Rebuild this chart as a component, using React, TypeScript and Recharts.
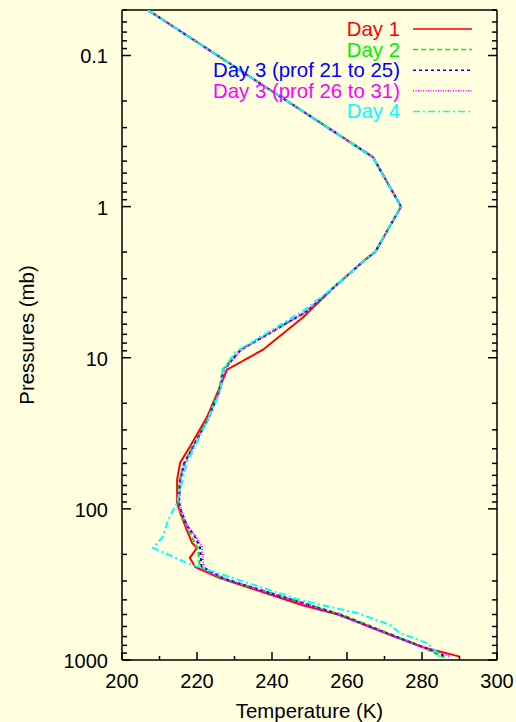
import { ScatterChart, Scatter, XAxis, YAxis } from "recharts";

const W = 516;
const H = 722;
const FONT = "'Liberation Sans', Arial, sans-serif";

// ─── ticks ───────────────────────────────────────────────────────────────────
const X_TICKS = [200, 210, 220, 230, 240, 250, 260, 270, 280, 290, 300];
const Y_TICKS = [
  0.05, 0.06, 0.07, 0.08, 0.09,
  0.1, 0.2, 0.3, 0.4, 0.5, 0.6, 0.7, 0.8, 0.9,
  1, 2, 3, 4, 5, 6, 7, 8, 9,
  10, 20, 30, 40, 50, 60, 70, 80, 90,
  100, 200, 300, 400, 500, 600, 700, 800, 900,
  1000,
];
const Y_LABELS = [0.1, 1, 10, 100, 1000];

// ─── profiles (pressure in mb, temperature in K) ─────────────────────────────
const DAY1_P = [0.05, 0.47, 1.0, 2.0, 2.25, 3.4, 5.4, 8.85, 12, 15.6, 24.6, 38.8, 49.5, 64, 91, 106, 138, 168, 181, 211, 242, 287, 433, 504, 653, 820, 950];
const DAY1_T = [206.9, 266.9, 274.4, 267.5, 264.8, 256.6, 248.3, 237.6, 228.0, 226.1, 222.7, 218.1, 215.5, 214.7, 214.7, 215.5, 217.3, 218.7, 220.0, 218.1, 219.5, 226.1, 248.0, 258.1, 269.6, 280.0, 290.1];

const DAY2_P = [0.05, 0.47, 1.0, 2.0, 2.25, 3.4, 4.96, 6.8, 8.85, 12, 16, 25, 39, 50, 65, 90, 105, 135, 160, 185, 215, 242, 290, 500, 650, 820, 930, 960];
const DAY2_T = [206.9, 266.9, 274.4, 267.5, 264.8, 256.6, 249.3, 239.5, 231.5, 226.8, 226.0, 223.0, 218.8, 216.5, 215.3, 215.0, 215.5, 217.5, 219.0, 220.3, 220.5, 220.8, 227.0, 258.5, 270.0, 280.2, 284.5, 286.0];

const DAY3A_P = [0.05, 0.47, 1.0, 2.0, 2.25, 3.4, 4.96, 6.8, 8.85, 12, 16, 25, 39, 50, 65, 90, 105, 130, 150, 180, 240, 290, 500, 650, 820, 950];
const DAY3A_T = [206.9, 266.9, 274.4, 267.5, 264.8, 256.6, 249.1, 239.7, 231.7, 227.1, 226.2, 223.1, 218.9, 216.6, 215.5, 215.2, 215.8, 217.4, 219.3, 220.8, 221.2, 227.3, 258.0, 269.6, 280.3, 286.5];

const DAY3B_P = [0.05, 0.47, 1.0, 2.0, 2.25, 3.4, 4.96, 6.8, 8.85, 12, 16, 25, 39, 50, 65, 90, 105, 130, 150, 178, 215, 253, 290, 500, 650, 820, 950];
const DAY3B_T = [206.9, 266.9, 274.4, 267.5, 264.8, 256.6, 249.0, 239.8, 231.8, 227.3, 226.3, 223.2, 219.0, 216.8, 215.6, 215.3, 216.0, 217.5, 219.5, 221.3, 221.6, 221.8, 227.5, 257.5, 269.3, 280.3, 287.5];

const DAY4_P = [0.05, 0.47, 1.0, 2.0, 2.25, 3.4, 4.8, 6.8, 9.2, 12.4, 16.3, 30, 49.5, 75, 91, 118, 153, 181, 228, 287, 401, 489, 586, 662, 772, 927, 960];
const DAY4_T = [206.9, 266.9, 274.4, 267.5, 264.8, 256.6, 248.8, 238.9, 230.1, 226.7, 226.4, 221.6, 217.3, 215.5, 214.7, 212.3, 210.9, 208.3, 217.3, 229.6, 247.5, 262.7, 271.5, 274.1, 281.3, 284.8, 284.0];

const toPoints = (p: number[], t: number[]) => p.map((v, i) => ({ p: v, t: t[i] }));

const SERIES = [
  { name: "Day 1", color: "#ff0000", dash: undefined as string | undefined, data: toPoints(DAY1_P, DAY1_T) },
  { name: "Day 2", color: "#00ee00", dash: "5 3", data: toPoints(DAY2_P, DAY2_T) },
  { name: "Day 3 (prof 21 to 25)", color: "#0000ff", dash: "3 3", data: toPoints(DAY3A_P, DAY3A_T) },
  { name: "Day 3 (prof 26 to 31)", color: "#ff00ff", dash: "1 1.5", data: toPoints(DAY3B_P, DAY3B_T) },
  { name: "Day 4", color: "#00ffff", dash: "7 3 2 3", data: toPoints(DAY4_P, DAY4_T) },
];

// ─── tick renderers (inward ticks on all four sides) ─────────────────────────
const BottomTick = ({ x, y, payload }: any) => {
  const major = payload.value % 20 === 0;
  return (
    <g>
      <line x1={x} x2={x} y1={y} y2={y - (major ? 8 : 4)} stroke="#000" strokeWidth={1.5} />
      {major && (
        <text x={x} y={y + 28} textAnchor="middle" fontSize={20} fill="#000">
          {payload.value}
        </text>
      )}
    </g>
  );
};

const TopTick = ({ x, y, payload }: any) => {
  const major = payload.value % 20 === 0;
  return <line x1={x} x2={x} y1={y} y2={y + (major ? 8 : 4)} stroke="#000" strokeWidth={1.5} />;
};

const LeftTick = ({ x, y, payload }: any) => {
  const major = Y_LABELS.includes(payload.value);
  return (
    <g>
      <line x1={x} x2={x + (major ? 9 : 5)} y1={y} y2={y} stroke="#000" strokeWidth={1.5} />
      {major && (
        <text x={x - 14} y={y + 8} textAnchor="end" fontSize={20} fill="#000">
          {payload.value}
        </text>
      )}
    </g>
  );
};

const RightTick = ({ x, y, payload }: any) => {
  const major = Y_LABELS.includes(payload.value);
  return <line x1={x} x2={x - (major ? 9 : 5)} y1={y} y2={y} stroke="#000" strokeWidth={1.5} />;
};

const NoShape = () => <g />;

export default function App() {
  return (
    <div
      style={{
        position: "fixed",
        left: 0,
        top: 0,
        width: W,
        height: H,
        background: "#ffffe0",
        fontFamily: FONT,
      }}
    >
      <ScatterChart width={W} height={H} margin={{ top: 9, right: 18, left: 0, bottom: 0 }}>
        <XAxis
          xAxisId="b"
          dataKey="t"
          type="number"
          domain={[200, 300]}
          ticks={X_TICKS}
          interval={0}
          allowDataOverflow
          height={62}
          tickSize={0}
          tickMargin={0}
          tickLine={false}
          axisLine={{ stroke: "#000", strokeWidth: 1.5 }}
          tick={BottomTick}
          label={{ value: "Temperature (K)", position: "insideBottom", offset: 4, fontSize: 20.4, fill: "#000" }}
        />
        <XAxis
          xAxisId="t"
          orientation="top"
          type="number"
          domain={[200, 300]}
          ticks={X_TICKS}
          interval={0}
          allowDataOverflow
          height={1}
          tickSize={0}
          tickMargin={0}
          tickLine={false}
          axisLine={{ stroke: "#000", strokeWidth: 1.5 }}
          tick={TopTick}
        />
        <YAxis
          yAxisId="l"
          dataKey="p"
          type="number"
          scale="log"
          domain={[0.05, 1000]}
          reversed
          ticks={Y_TICKS}
          interval={0}
          allowDataOverflow
          width={122}
          tickSize={0}
          tickMargin={0}
          tickLine={false}
          axisLine={{ stroke: "#000", strokeWidth: 1.5 }}
          tick={LeftTick}
          label={{
            value: "Pressures (mb)",
            angle: -90,
            position: "insideLeft",
            offset: 27,
            fontSize: 20.4,
            fill: "#000",
            style: { textAnchor: "middle" },
          }}
        />
        <YAxis
          yAxisId="r"
          orientation="right"
          type="number"
          scale="log"
          domain={[0.05, 1000]}
          reversed
          ticks={Y_TICKS}
          interval={0}
          allowDataOverflow
          width={1}
          tickSize={0}
          tickMargin={0}
          tickLine={false}
          axisLine={{ stroke: "#000", strokeWidth: 1.5 }}
          tick={RightTick}
        />
        {SERIES.map((s) => (
          <Scatter
            key={s.name}
            name={s.name}
            data={s.data}
            xAxisId="b"
            yAxisId="l"
            fill={s.color}
            shape={NoShape}
            line={{ stroke: s.color, strokeWidth: 2, strokeDasharray: s.dash }}
            isAnimationActive={false}
          />
        ))}
      </ScatterChart>

      {/* key, top right inside the frame */}
      <svg
        width={W}
        height={130}
        style={{ position: "absolute", left: 0, top: 0, pointerEvents: "none" }}
      >
        {SERIES.map((s, i) => {
          const base = 36 + i * 20.6;
          return (
            <g key={s.name}>
              <text x={400} y={base} textAnchor="end" fontSize={20.4} fill={s.color}>
                {s.name}
              </text>
              <line
                x1={413}
                x2={472}
                y1={base - 7}
                y2={base - 7}
                stroke={s.color}
                strokeWidth={1.5}
                strokeDasharray={s.dash}
              />
            </g>
          );
        })}
      </svg>
    </div>
  );
}
